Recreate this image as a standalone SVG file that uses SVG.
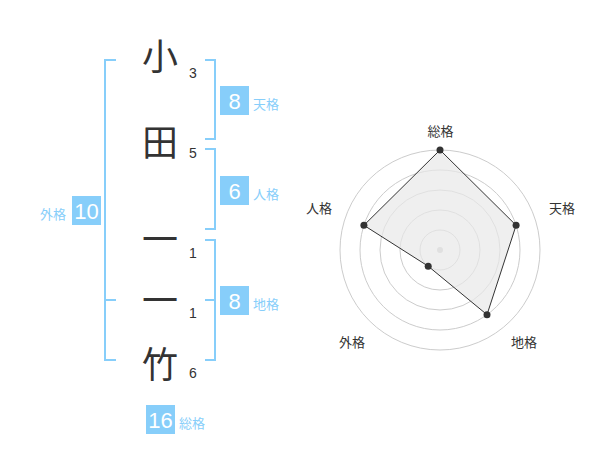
<svg xmlns="http://www.w3.org/2000/svg" width="600" height="470" viewBox="0 0 600 470">
<style>
.kanji{font-family:"Noto Sans CJK JP","Noto Sans CJK SC",sans-serif;font-size:36px;fill:#333;text-anchor:middle}
.cnt{font-family:"Liberation Sans","Noto Sans",sans-serif;font-size:14px;fill:#333;text-anchor:middle}
.br{fill:none;stroke:#87cefa;stroke-width:2}
.box{fill:#87cefa}
.num{font-family:"Liberation Sans","Noto Sans",sans-serif;font-size:22px;fill:#fff;text-anchor:middle}
.lbl{font-family:"Noto Sans CJK JP","Noto Sans CJK SC",sans-serif;font-size:13px;fill:#87cefa}
.ring{fill:none;stroke:#ccc;stroke-width:1}
.rl{font-family:"Noto Sans CJK JP","Noto Sans CJK SC",sans-serif;font-size:13px;fill:#333;text-anchor:middle}
.dot{fill:#333}
</style>
<rect width="600" height="470" fill="#fff"/>
<g id="chars">
<text class="kanji" x="160" y="70">小</text>
<text class="kanji" x="160" y="156">田</text>
<text class="kanji" x="160" y="253">一</text>
<text class="kanji" x="160" y="314">一</text>
<text class="kanji" x="160" y="378">竹</text>
<text class="cnt" x="193" y="78">3</text>
<text class="cnt" x="193" y="158">5</text>
<text class="cnt" x="193" y="258">1</text>
<text class="cnt" x="193" y="318">1</text>
<text class="cnt" x="193" y="378">6</text>
</g>
<g id="connectors">
<path class="br" d="M116 60H105V360H116M105 300H116"/>
<path class="br" d="M205 60H215V139H205"/>
<path class="br" d="M205 149H215V229H205"/>
<path class="br" d="M205 240H215V360H205M205 300H215"/>
</g>
<g id="gaikaku">
<rect class="box" x="72" y="196" width="29" height="29"/>
<text class="num" x="86.5" y="218.5">10</text>
<text class="lbl" x="40" y="219">外格</text>
</g>
<g id="tenkaku">
<rect class="box" x="220" y="86" width="29" height="29"/>
<text class="num" x="234.5" y="108.5">8</text>
<text class="lbl" x="253" y="109">天格</text>
</g>
<g id="jinkaku">
<rect class="box" x="220" y="176" width="29" height="29"/>
<text class="num" x="234.5" y="198.5">6</text>
<text class="lbl" x="253" y="199">人格</text>
</g>
<g id="chikaku">
<rect class="box" x="220" y="286" width="29" height="29"/>
<text class="num" x="234.5" y="308.5">8</text>
<text class="lbl" x="253" y="309">地格</text>
</g>
<g id="soukaku">
<rect class="box" x="146" y="405" width="29" height="29"/>
<text class="num" x="160.5" y="427.5">16</text>
<text class="lbl" x="179" y="428">総格</text>
</g>
<g id="radar">
<circle class="ring" cx="440" cy="250" r="20"/>
<circle class="ring" cx="440" cy="250" r="40"/>
<circle class="ring" cx="440" cy="250" r="60"/>
<circle class="ring" cx="440" cy="250" r="80"/>
<circle class="ring" cx="440" cy="250" r="100"/>
<circle cx="440" cy="250" r="3" fill="#ccc"/>
<polygon points="440,150 516.1,225.3 487,314.7 428.2,266.2 363.9,225.3" fill="#e8e8e8" fill-opacity="0.7" stroke="#333" stroke-width="1"/>
<circle class="dot" cx="440" cy="150" r="3.5"/>
<circle class="dot" cx="516.1" cy="225.3" r="3.5"/>
<circle class="dot" cx="487" cy="314.7" r="3.5"/>
<circle class="dot" cx="428.2" cy="266.2" r="3.5"/>
<circle class="dot" cx="363.9" cy="225.3" r="3.5"/>
<text class="rl" x="440.5" y="135.5">総格</text>
<text class="rl" x="562" y="212.5">天格</text>
<text class="rl" x="524" y="346.5">地格</text>
<text class="rl" x="352" y="346.5">外格</text>
<text class="rl" x="319" y="212.5">人格</text>
</g>
</svg>
